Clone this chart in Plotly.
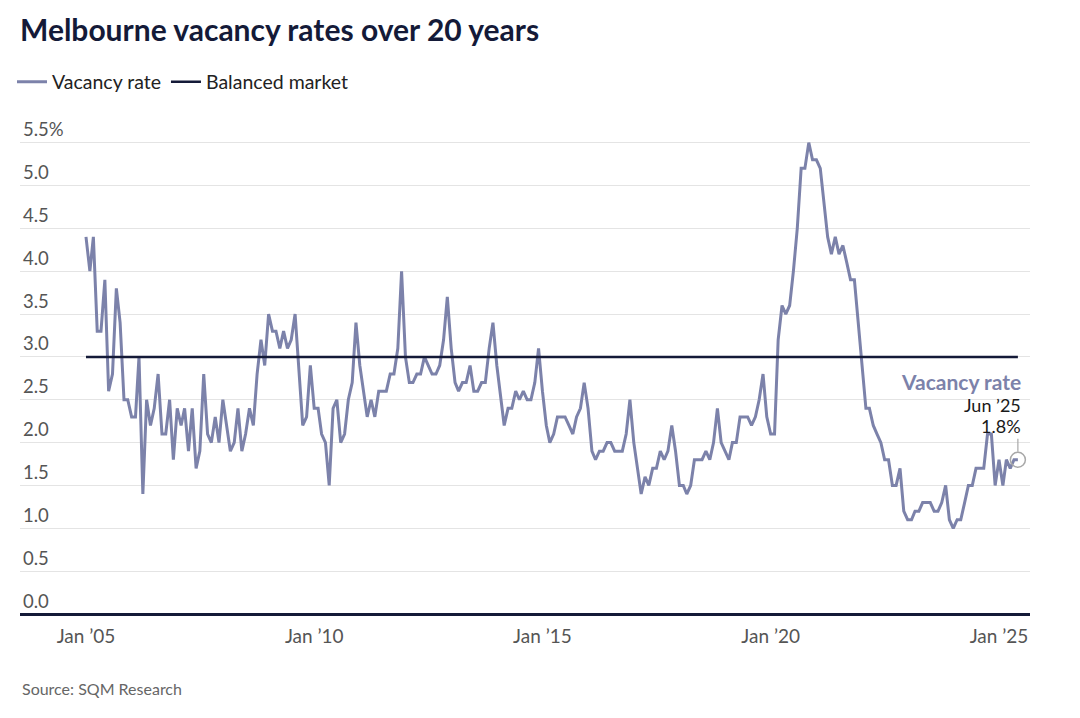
import pandas as pd
import plotly.graph_objects as go

# Monthly Melbourne vacancy rate (%), Jan 2005 - Jun 2025
rate_2005 = [4.4, 4.0, 4.4, 3.3, 3.3, 3.9, 2.6, 2.8, 3.8, 3.4, 2.5, 2.5]
rate_2006 = [2.3, 2.3, 3.0, 1.4, 2.5, 2.2, 2.4, 2.8, 2.1, 2.1, 2.5, 1.8]
rate_2007 = [2.4, 2.2, 2.4, 1.9, 2.4, 1.7, 1.9, 2.8, 2.1, 2.0, 2.3, 2.0]
rate_2008 = [2.5, 2.2, 1.9, 2.0, 2.4, 1.9, 2.1, 2.4, 2.2, 2.8, 3.2, 2.9]
rate_2009 = [3.5, 3.3, 3.3, 3.1, 3.3, 3.1, 3.2, 3.5, 2.8, 2.2, 2.3, 2.9]
rate_2010 = [2.4, 2.4, 2.1, 2.0, 1.5, 2.4, 2.5, 2.0, 2.1, 2.5, 2.7, 3.4]
rate_2011 = [2.9, 2.6, 2.3, 2.5, 2.3, 2.6, 2.6, 2.6, 2.8, 2.8, 3.1, 4.0]
rate_2012 = [3.0, 2.7, 2.7, 2.8, 2.8, 3.0, 2.9, 2.8, 2.8, 2.9, 3.2, 3.7]
rate_2013 = [3.1, 2.7, 2.6, 2.7, 2.7, 2.9, 2.6, 2.6, 2.7, 2.7, 3.1, 3.4]
rate_2014 = [2.9, 2.5, 2.2, 2.4, 2.4, 2.6, 2.5, 2.6, 2.5, 2.5, 2.7, 3.1]
rate_2015 = [2.6, 2.2, 2.0, 2.1, 2.3, 2.3, 2.3, 2.2, 2.1, 2.3, 2.4, 2.7]
rate_2016 = [2.4, 1.9, 1.8, 1.9, 1.9, 2.0, 2.0, 1.9, 1.9, 1.9, 2.1, 2.5]
rate_2017 = [2.0, 1.7, 1.4, 1.6, 1.5, 1.7, 1.7, 1.9, 1.8, 1.9, 2.2, 1.9]
rate_2018 = [1.5, 1.5, 1.4, 1.5, 1.8, 1.8, 1.8, 1.9, 1.8, 2.0, 2.4, 2.0]
rate_2019 = [1.9, 1.8, 2.0, 2.0, 2.3, 2.3, 2.3, 2.2, 2.3, 2.5, 2.8, 2.3]
rate_2020 = [2.1, 2.1, 3.2, 3.6, 3.5, 3.6, 4.0, 4.5, 5.2, 5.2, 5.5, 5.3]
rate_2021 = [5.3, 5.2, 4.8, 4.4, 4.2, 4.4, 4.2, 4.3, 4.1, 3.9, 3.9, 3.4]
rate_2022 = [2.9, 2.4, 2.4, 2.2, 2.1, 2.0, 1.8, 1.8, 1.5, 1.5, 1.7, 1.2]
rate_2023 = [1.1, 1.1, 1.2, 1.2, 1.3, 1.3, 1.3, 1.2, 1.2, 1.3, 1.5, 1.1]
rate_2024 = [1.0, 1.1, 1.1, 1.3, 1.5, 1.5, 1.7, 1.7, 1.7, 2.1, 2.1, 1.5]
rate_2025 = [1.8, 1.5, 1.8, 1.7, 1.8, 1.8]

vacancy = (rate_2005 + rate_2006 + rate_2007 + rate_2008 + rate_2009 + rate_2010
           + rate_2011 + rate_2012 + rate_2013 + rate_2014 + rate_2015 + rate_2016
           + rate_2017 + rate_2018 + rate_2019 + rate_2020 + rate_2021 + rate_2022
           + rate_2023 + rate_2024 + rate_2025)
months = pd.date_range("2005-01-01", periods=len(vacancy), freq="MS")

balanced_dates = [months[0], months[-1]]
balanced_value = [3.0, 3.0]

y_tickvals = [0.0, 0.5, 1.0, 1.5, 2.0, 2.5, 3.0, 3.5, 4.0, 4.5, 5.0, 5.5]
y_ticktext = ["0.0", "0.5", "1.0", "1.5", "2.0", "2.5", "3.0", "3.5", "4.0", "4.5", "5.0", "5.5%"]
x_tickvals = ["2005-01-01", "2010-01-01", "2015-01-01", "2020-01-01", "2025-01-01"]
x_ticktext = ["Jan \u201905", "Jan \u201910", "Jan \u201915", "Jan \u201920", "Jan \u201925"]

LINE = "#7c82aa"
NAVY = "#141a38"
GREY = "#555555"
FONT = "Lato"

PLOT_TOP, PLOT_BOTTOM = 110, 614
PLOT_H = PLOT_BOTTOM - PLOT_TOP

fig = go.Figure()
fig.add_trace(go.Scatter(
    x=months, y=vacancy, mode="lines", name="Vacancy rate",
    line=dict(color=LINE, width=3), hoverinfo="skip"))
fig.add_trace(go.Scatter(
    x=balanced_dates, y=balanced_value, mode="lines", name="Balanced market",
    line=dict(color=NAVY, width=2.5), hoverinfo="skip"))
fig.add_trace(go.Scatter(
    x=[months[-1]], y=[vacancy[-1]], mode="markers", showlegend=False,
    marker=dict(size=15, color="rgba(255,255,255,0)",
                line=dict(color="#a8a8a8", width=1.5)),
    hoverinfo="skip"))

last_x = months[-1]
last_y = vacancy[-1]
fig.add_shape(type="line", xref="x", yref="y", x0=last_x, x1=last_x,
              ysizemode="pixel", yanchor=last_y, y0=8, y1=21,
              line=dict(color="#a8a8a8", width=1.2))

fig.add_annotation(x=last_x, y=last_y, text="<b>Vacancy rate</b>", showarrow=False,
                   xanchor="right", yanchor="middle", xshift=5, yshift=78,
                   font=dict(family=FONT, size=21, color=LINE))
fig.add_annotation(x=last_x, y=last_y, text=f"Jun \u2019{str(last_x.year)[2:]}",
                   showarrow=False, xanchor="right", yanchor="middle",
                   xshift=5, yshift=55, font=dict(family=FONT, size=18, color="#1a1a1a"))
fig.add_annotation(x=last_x, y=last_y, text=f"{last_y:.1f}%",
                   showarrow=False, xanchor="right", yanchor="middle",
                   xshift=5, yshift=34, font=dict(family=FONT, size=18, color="#1a1a1a"))

fig.add_annotation(xref="paper", yref="paper", x=0, y=(PLOT_BOTTOM - 689) / PLOT_H,
                   text="Source: SQM Research", showarrow=False,
                   xanchor="left", yanchor="middle",
                   font=dict(family=FONT, size=16, color="#666666"))

fig.update_layout(
    width=1080, height=718,
    margin=dict(l=20, r=50, t=PLOT_TOP, b=718 - PLOT_BOTTOM),
    paper_bgcolor="white", plot_bgcolor="white",
    font=dict(family=FONT, color=GREY),
    title=dict(text="<b>Melbourne vacancy rates over 20 years</b>",
               x=20 / 1080, xref="container", xanchor="left",
               y=1 - 30 / 718, yref="container", yanchor="middle",
               font=dict(family=FONT, size=30, color=NAVY)),
    legend=dict(orientation="h", xref="container", yref="container",
                x=12 / 1080, y=1 - 82 / 718, xanchor="left", yanchor="middle",
                font=dict(family=FONT, size=19.5, color="#222222"),
                itemwidth=30, bgcolor="rgba(0,0,0,0)"),
    showlegend=True,
)
fig.update_xaxes(
    type="date", range=["2003-07-23", "2025-09-06"],
    tickvals=x_tickvals, ticktext=x_ticktext,
    showgrid=False, zeroline=False, showline=False, ticks="",
    ticklabelstandoff=9,
    tickfont=dict(family=FONT, size=19, color=GREY))
fig.update_yaxes(
    range=[0, PLOT_H / 86.3],
    tickvals=y_tickvals, ticktext=y_ticktext,
    ticklabelposition="inside top",
    showgrid=True, gridcolor="#e4e4e4", gridwidth=1,
    zeroline=True, zerolinecolor=NAVY, zerolinewidth=3,
    showline=False, ticks="",
    tickfont=dict(family=FONT, size=18.5, color=GREY))

fig.write_html("out.html")
